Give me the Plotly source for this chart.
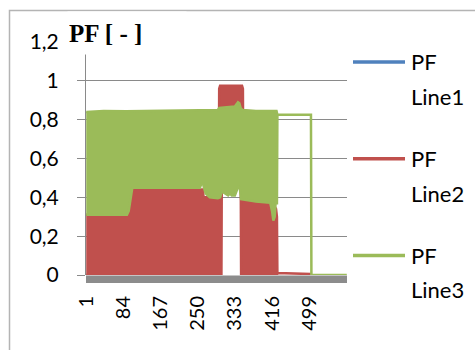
import plotly.graph_objects as go

# ---- data -------------------------------------------------------------
N_SAMPLES = 583
x_tick_vals = [1, 84, 167, 250, 333, 416, 499]
x_tick_text = ["1", "84", "167", "250", "333", "416", "499"]
y_tick_vals = [0, 0.2, 0.4, 0.6, 0.8, 1.0, 1.2]
y_tick_text = ["0", "0,2", "0,4", "0,6", "0,8", "1", "1,2"]

series_names = ["PF Line1", "PF Line2", "PF Line3"]
series_colors = ["#4f81bd", "#c0504d", "#9bbb59"]

# PF Line1: no samples recorded
line1_x = []
line1_y = []

# PF Line2: the signal flickers between these lower/upper envelopes
line2_upper_x = [1, 92, 96, 100, 103, 262, 263, 297, 298, 300, 349, 351, 352,
                 380, 412, 420, 425, 427, 428, 503]
line2_upper_y = [0.31, 0.31, 0.33, 0.40, 0.44, 0.44, 0.40, 0.40, 0.96, 0.975,
                 0.975, 0.96, 0.385, 0.378, 0.372, 0.36, 0.34, 0.30, 0.01, 0.005]
line2_lower_x = [1, 303, 304, 346, 347, 427, 428, 503]
line2_lower_y = [0, 0, 0.6, 0.6, 0, 0, 0.01, 0.005]

# PF Line3
line3_upper_x = [1, 40, 90, 150, 200, 250, 295, 298, 320, 333, 337, 340, 343,
                 346, 350, 380, 426, 427, 428, 503, 504, 583]
line3_upper_y = [0.84, 0.845, 0.843, 0.845, 0.845, 0.848, 0.85, 0.86, 0.865,
                 0.868, 0.88, 0.89, 0.885, 0.86, 0.85, 0.845, 0.845, 0.83,
                 0.825, 0.825, 0, 0]
line3_lower_x = [1, 92, 96, 100, 104, 255, 258, 262, 264, 268, 277, 295, 300,
                 304, 310, 318, 322, 326, 333, 338, 341, 344, 347, 352, 380,
                 412, 416, 419, 422, 424, 427, 428, 503, 504, 583]
line3_lower_y = [0.31, 0.31, 0.33, 0.40, 0.45, 0.45, 0.47, 0.47, 0.45, 0.42,
                 0.40, 0.395, 0.40, 0.43, 0.42, 0.41, 0.42, 0.41, 0.41, 0.44,
                 0.46, 0.45, 0.39, 0.385, 0.378, 0.372, 0.33, 0.28, 0.30, 0.37,
                 0.37, 0.825, 0.825, 0, 0]

# ---- geometry ---------------------------------------------------------
W, H = 475, 350
ML, MR, MT, MB = 86, 128, 42, 75
PW = W - ML - MR
PH = H - MT - MB


def px_x(px):
    return (px - ML) / PW


def px_y(py):
    return (H - MB - py) / PH


def band(ux, uy, lx, ly):
    return ux + lx[::-1], uy + ly[::-1]


fig = go.Figure()

fig.add_trace(go.Scatter(x=line1_x, y=line1_y, mode="lines", name=series_names[0],
                         line=dict(color=series_colors[0], width=2.5)))

bx, by = band(line2_upper_x, line2_upper_y, line2_lower_x, line2_lower_y)
fig.add_trace(go.Scatter(x=bx, y=by, mode="lines", name=series_names[1],
                         fill="toself", fillcolor=series_colors[1],
                         line=dict(color=series_colors[1], width=2.5)))

bx, by = band(line3_upper_x, line3_upper_y, line3_lower_x, line3_lower_y)
fig.add_trace(go.Scatter(x=bx, y=by, mode="lines", name=series_names[2],
                         fill="toself", fillcolor=series_colors[2],
                         line=dict(color=series_colors[2], width=2.5)))

shapes = []
annotations = []

# outer chart frame
shapes.append(dict(type="rect", xref="paper", yref="paper",
                   x0=px_x(9.5), x1=px_x(490), y0=px_y(10.5), y1=px_y(370),
                   line=dict(color="#b4b4b4", width=1.5), fillcolor="rgba(0,0,0,0)"))

# floor band under the category axis
shapes.append(dict(type="rect", xref="paper", yref="paper",
                   x0=0, x1=1, y0=px_y(275.5), y1=px_y(283),
                   line=dict(width=0), fillcolor="#8c8c8c", layer="above"))

# legend
for i, (name, color) in enumerate(zip(series_names, series_colors)):
    yc = 62 + i * 96.7
    shapes.append(dict(type="line", xref="paper", yref="paper",
                       x0=px_x(353), x1=px_x(405), y0=px_y(yc), y1=px_y(yc),
                       line=dict(color=color, width=3.5)))
    first, second = name.split(" ", 1)
    for j, part in enumerate([first, second]):
        annotations.append(dict(text=part, xref="paper", yref="paper",
                                x=px_x(409), y=px_y(yc + j * 34.5),
                                xanchor="left", yanchor="middle", showarrow=False,
                                font=dict(family="Lato", size=22, color="black")))

# axis title box
annotations.append(dict(text="<b>PF [ - ]</b>", xref="paper", yref="paper",
                        x=px_x(67), y=px_y(55), xanchor="left", yanchor="bottom",
                        width=116, height=40, align="left", valign="middle",
                        bgcolor="white", showarrow=False,
                        font=dict(family="Liberation Serif", size=25, color="black")))

fig.update_layout(
    width=W, height=H,
    margin=dict(l=ML, r=MR, t=MT, b=MB, pad=0),
    paper_bgcolor="white", plot_bgcolor="white",
    showlegend=False,
    font=dict(family="Lato", size=20, color="black"),
    shapes=shapes, annotations=annotations,
    xaxis=dict(range=[0.5, N_SAMPLES + 0.5], tickmode="array",
               tickvals=x_tick_vals, ticktext=x_tick_text, tickangle=-90,
               showgrid=False, zeroline=False, showline=False, ticks="",
               ticklabelstandoff=16, tickfont=dict(family="Lato", size=20)),
    yaxis=dict(range=[0, 1.2], tickmode="array", tickvals=y_tick_vals,
               ticktext=y_tick_text, showgrid=True, gridcolor="#8a8a8a",
               gridwidth=1, zeroline=False, showline=True, linecolor="#8a8a8a",
               linewidth=1, ticks="outside", ticklen=8, tickcolor="#8a8a8a",
               ticklabelstandoff=14, tickfont=dict(family="Lato", size=21)),
)

fig.write_html("out.html")
